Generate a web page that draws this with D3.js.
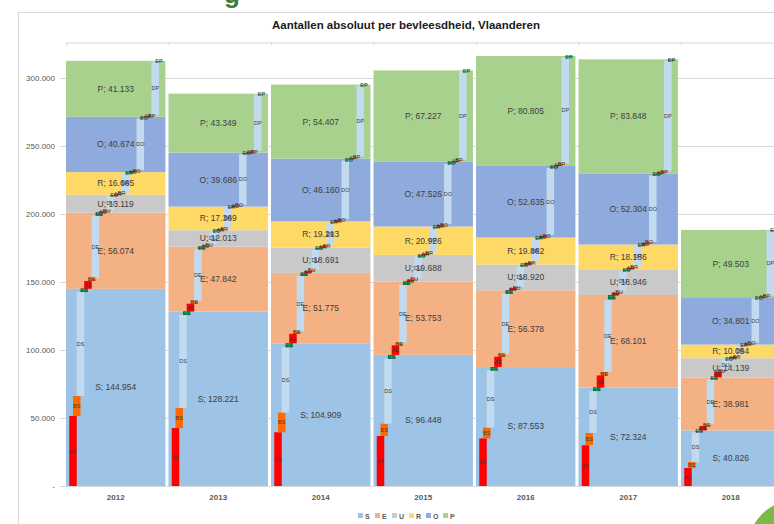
<!DOCTYPE html>
<html><head><meta charset="utf-8">
<script src="https://cdn.jsdelivr.net/npm/d3@7"></script>
<style>
html,body{margin:0;padding:0;background:#fff;}
svg{display:block;font-family:"Liberation Sans",Arial,sans-serif;}
</style></head>
<body><svg id="c" width="774" height="524"></svg>
<script>
// ---------------- data ----------------
const years = ["2012","2013","2014","2015","2016","2017","2018"];
const classes = ["S","E","U","R","O","P"];
const classColors = ["#9DC3E6","#F4B183","#C9C9C9","#FFD966","#8FAADC","#A9D18E"];
// main totals per conformation class
const S = [144954,128221,104909,96448,87553,72324,40826];
const E = [56074,47842,51775,53753,56378,68101,38981];
const U = [13119,12013,18691,19688,18920,18946,14139];
const R = [16665,17369,19213,20926,19862,18186,10054];
const O = [40674,39686,46160,47526,52635,52304,34801];
const P = [41133,43349,54407,67227,80805,83848,49503];
// sub-categories (A, B, D, E) per class
const subTypes = ["A","B","D","E"];
const subColors = ["#FF0000","#FF6A00","#C2DAF0","#00A84F"];
const AS = [51500,42600,39500,36800,35000,30000,13200];
const BS = [14700,14800,14500,9000,8000,9000,4400];
const DS = [76400,68300,47900,47700,42000,30800,22000];
const ES = [2354,2521,3009,2948,2553,2524,1226];
const AE = [5800,5800,7000,7000,7500,9000,3200];
const BE = [2200,2000,2000,2000,2000,2500,1500];
const DE = [45900,38200,40500,42500,44500,53200,33000];
const EE = [2174,1842,2275,2253,2378,3401,1281];
const AU = [1000,900,1500,1600,1600,1800,4500];
const BU = [800,700,800,800,800,800,1200];
const DU = [10300,9500,15000,15900,15200,15000,7600];
const EU = [1019,913,1391,1388,1320,1346,839];
const AR = [700,800,1000,1100,1100,1200,1000];
const BR = [500,500,500,600,600,600,500];
const DR = [14500,15200,16800,18200,17200,15400,7800];
const ER = [965,869,913,1026,962,986,754];
const AO = [800,800,1000,1000,1100,1200,800];
const BO = [600,600,600,700,700,700,500];
const DO = [38000,37200,43200,44400,49300,48900,32700];
const EO = [1274,1086,1360,1426,1535,1504,801];
const AP = [500,500,600,700,800,800,600];
const BP = [600,600,700,800,900,900,600];
const DP = [39500,41700,52400,65000,78200,81200,47600];
const EP = [533,549,707,727,905,948,703];
const yTicks = [0,50000,100000,150000,200000,250000,300000];
const title = "Aantallen absoluut per bevleesdheid, Vlaanderen";

const mainVals = {S,E,U,R,O,P};
const subVals = {AS,BS,DS,ES,AE,BE,DE,EE,AU,BU,DU,EU,AR,BR,DR,ER,AO,BO,DO,EO,AP,BP,DP,EP};
const subKeys = [];
classes.forEach(c => subTypes.forEach(t => subKeys.push(t + c)));

// ---------------- setup ----------------
const loc = d3.formatLocale({decimal:",", thousands:".", grouping:[3], currency:["",""]});
const fmt = loc.format(",d");

const svg = d3.select("#c");
const step = 102.5, x0 = 66, pad = 0.03;
const x = d3.scaleBand().domain(years).range([x0, x0 + step * (years.length - pad)]).paddingInner(pad).paddingOuter(0);
const y = d3.scaleLinear().domain([0, 350000]).range([486, 10]);
const sub = d3.scalePoint().domain(subKeys).range([7, 93]);
const subW = 7.5;

// slide decorations
svg.append("text").attr("x", 224).attr("y", 3).attr("font-size", 26).attr("font-weight", "bold")
  .attr("fill", "#3F7A35").text("g");
svg.append("circle").attr("cx", 796).attr("cy", 548).attr("r", 48).attr("fill", "#7DBA45");

// chart border
svg.append("rect").attr("x", 18.5).attr("y", 12.5).attr("width", 800).attr("height", 600)
  .attr("fill", "none").attr("stroke", "#D9D9D9");

// title
svg.append("text").attr("x", 406).attr("y", 29).attr("text-anchor", "middle")
  .attr("font-size", 11).attr("font-weight", "bold").attr("fill", "#1a1a1a")
  .attr("textLength", 268).attr("lengthAdjust", "spacingAndGlyphs").text(title);

// gridlines
svg.append("g").selectAll("line").data(yTicks).join("line")
  .attr("x1", x0 - 6).attr("x2", 800).attr("y1", d => Math.round(y(d)) + 0.5).attr("y2", d => Math.round(y(d)) + 0.5)
  .attr("stroke", "#D9D9D9").attr("stroke-width", 1);

// top secondary category axis line
const idx = d3.scaleLinear().domain([0, years.length]).range([x0, x0 + step * years.length]);
const topAx = svg.append("g").attr("transform", "translate(0,42.5)")
  .call(d3.axisBottom(idx).tickValues(d3.range(years.length + 1)).tickSize(3).tickFormat(""));
topAx.selectAll("path,line").attr("stroke", "#D9D9D9");

// main stacked bars
const mainRows = years.map((yr, i) => {
  const r = {year: yr};
  classes.forEach(c => r[c] = mainVals[c][i]);
  return r;
});
const stack = d3.stack().keys(classes)(mainRows);
const gMain = svg.append("g");
stack.forEach((layer, li) => {
  gMain.append("g").attr("fill", classColors[li]).selectAll("rect").data(layer).join("rect")
    .attr("x", d => x(d.data.year)).attr("width", x.bandwidth())
    .attr("y", d => y(d[1])).attr("height", d => y(d[0]) - y(d[1]));
});

// sub waterfall bars
const subRows = [];
years.forEach((yr, i) => {
  let cum = 0;
  subKeys.forEach(k => {
    const v = subVals[k][i];
    subRows.push({year: yr, key: k, t: subTypes.indexOf(k[0]), y0: cum, y1: cum + v});
    cum += v;
  });
});
svg.append("g").selectAll("rect").data(subRows).join("rect")
  .attr("x", d => x(d.year) + sub(d.key) - subW / 2).attr("width", subW)
  .attr("y", d => y(d.y1)).attr("height", d => Math.max(0.8, y(d.y0) - y(d.y1)))
  .attr("fill", d => subColors[d.t]);

// main labels
const gLab = svg.append("g").attr("font-size", 8.5).attr("fill", "#404040").attr("text-anchor", "middle");
stack.forEach((layer, li) => {
  gLab.append("g").selectAll("text").data(layer).join("text")
    .attr("x", d => x(d.data.year) + x.bandwidth() / 2)
    .attr("y", d => (y(d[0]) + y(d[1])) / 2 + 3)
    .text(d => classes[li] + ";  " + fmt(d[1] - d[0]));
});

// sub labels
svg.append("g").attr("font-size", 5.5).attr("fill", "#3a3a3a").attr("text-anchor", "middle")
  .selectAll("text").data(subRows).join("text")
  .attr("x", d => x(d.year) + sub(d.key))
  .attr("y", d => (y(d.y0) + y(d.y1)) / 2 + 2)
  .text(d => d.key);

// y axis
const yAx = svg.append("g").attr("transform", "translate(57,0)")
  .call(d3.axisLeft(y).tickValues(yTicks).tickSize(0).tickPadding(2)
    .tickFormat(d => d === 0 ? "-  " : fmt(d)));
yAx.select(".domain").remove();
yAx.selectAll("text").attr("font-size", 8).attr("fill", "#595959").attr("font-family", "Liberation Sans, Arial, sans-serif");

// x axis
const xAx = svg.append("g").attr("transform", "translate(0,486)")
  .call(d3.axisBottom(x).tickSize(0).tickPadding(8));
xAx.select(".domain").attr("stroke", "#D9D9D9");
xAx.selectAll("text").attr("font-size", 8).attr("font-weight", "bold").attr("fill", "#595959")
  .attr("font-family", "Liberation Sans, Arial, sans-serif");

// legend
const lg = svg.append("g").attr("transform", "translate(358,513)");
const li = lg.selectAll("g").data(classes).join("g").attr("transform", (d, i) => `translate(${i * 17},0)`);
li.append("rect").attr("width", 5).attr("height", 5).attr("fill", (d, i) => classColors[i]);
li.append("text").attr("x", 7).attr("y", 5.5).attr("font-size", 7).attr("font-weight", "bold")
  .attr("fill", "#595959").text(d => d);
</script></body></html>
